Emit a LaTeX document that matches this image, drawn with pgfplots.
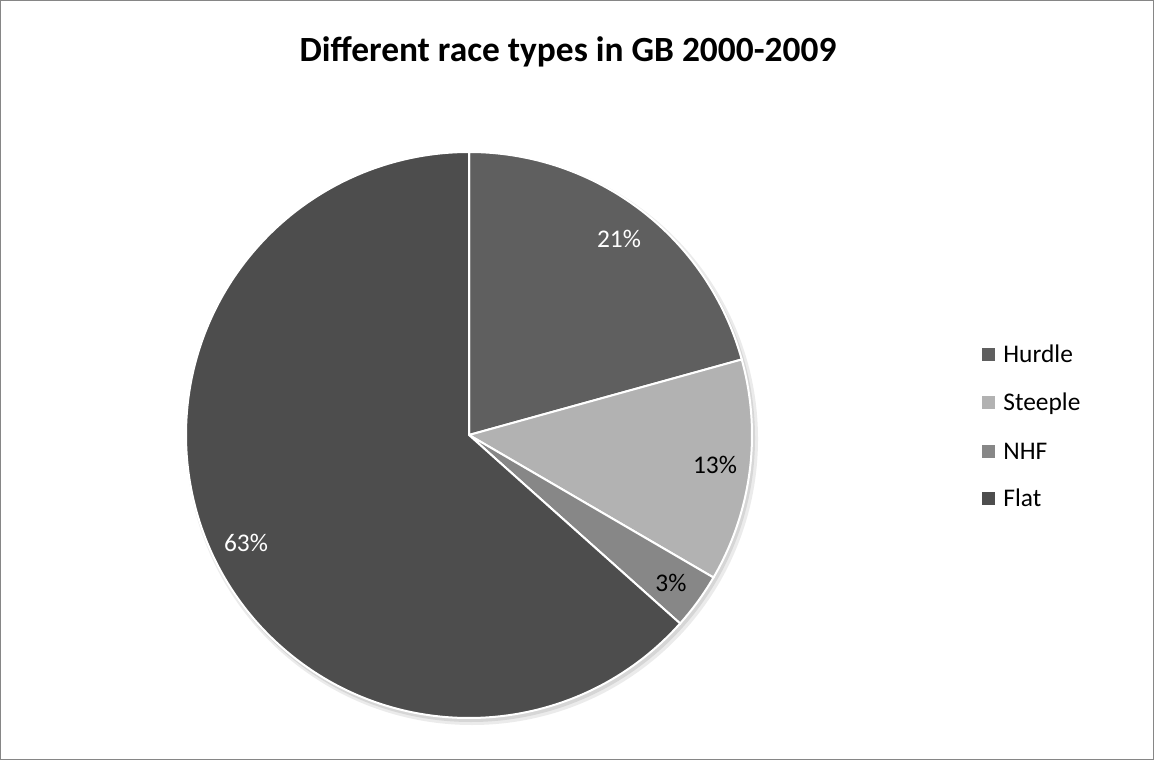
\documentclass[border=0pt]{standalone}
\usepackage{fontspec}
\setmainfont{Carlito}
\usepackage{pgfplots}
\usepackage{pgfplotstable}
\pgfplotsset{compat=1.18}
\definecolor{cHurdle}{HTML}{5F5F5F}
\definecolor{cSteeple}{HTML}{B2B2B2}
\definecolor{cNHF}{HTML}{878787}
\definecolor{cFlat}{HTML}{4D4D4D}
\definecolor{frame}{HTML}{868686}
\pgfplotstableread{
type share
Hurdle 20.7
Steeple 12.7
NHF 3.2
Flat 63.4
}\racedata
\pgfplotstablegetelem{0}{share}\of\racedata \let\sA\pgfplotsretval
\pgfplotstablegetelem{1}{share}\of\racedata \let\sB\pgfplotsretval
\pgfplotstablegetelem{2}{share}\of\racedata \let\sC\pgfplotsretval
\pgfplotstablegetelem{3}{share}\of\racedata \let\sD\pgfplotsretval
\pgfmathsetmacro\aA{90}
\pgfmathsetmacro\aB{\aA-3.6*\sA}
\pgfmathsetmacro\aC{\aB-3.6*\sB}
\pgfmathsetmacro\aD{\aC-3.6*\sC}
\pgfmathsetmacro\aE{\aD-3.6*\sD}
\def\R{141.5pt}
\begin{document}%
\begin{tikzpicture}
\begin{axis}[x=0.5pt,y=0.5pt,xmin=0,xmax=1154,ymin=0,ymax=760,hide axis,clip=false]
\coordinate (bl) at (axis cs:0,0);
\coordinate (tr) at (axis cs:1154,760);
\draw[frame,line width=0.5pt] (axis cs:0.5,0.5) rectangle (axis cs:1153.5,759.5);
\node[anchor=base,inner sep=0pt,font=\fontsize{17.7}{20}\selectfont\bfseries] at (axis cs:568,698) {Different race types in GB 2000-2009};
% pie shadow
\fill[black!8] (axis cs:472,321) circle[radius=143pt];
\fill[black!16] (axis cs:471,322) circle[radius=142pt];
% pie
\filldraw[fill=cHurdle,draw=white,line width=1pt] (axis cs:469,325) -- ++(\aA:\R) arc[start angle=\aA,end angle=\aB,radius=\R] -- cycle;
\filldraw[fill=cSteeple,draw=white,line width=1pt] (axis cs:469,325) -- ++(\aB:\R) arc[start angle=\aB,end angle=\aC,radius=\R] -- cycle;
\filldraw[fill=cNHF,draw=white,line width=1pt] (axis cs:469,325) -- ++(\aC:\R) arc[start angle=\aC,end angle=\aD,radius=\R] -- cycle;
\filldraw[fill=cFlat,draw=white,line width=1pt] (axis cs:469,325) -- ++(\aD:\R) arc[start angle=\aD,end angle=\aE,radius=\R] -- cycle;
% labels
\node[anchor=base,inner sep=0pt,white,font=\fontsize{12.7}{15}\selectfont] at (axis cs:619,512) {21\%};
\node[anchor=base,inner sep=0pt,black,font=\fontsize{12.7}{15}\selectfont] at (axis cs:715,286) {13\%};
\node[anchor=base,inner sep=0pt,black,font=\fontsize{12.7}{15}\selectfont] at (axis cs:671,169) {3\%};
\node[anchor=base,inner sep=0pt,white,font=\fontsize{12.7}{15}\selectfont] at (axis cs:246,209) {63\%};
% legend
\fill[cHurdle] (axis cs:982,398.5) rectangle (axis cs:995,411.5);
\fill[cSteeple] (axis cs:982,350.5) rectangle (axis cs:995,363.5);
\fill[cNHF] (axis cs:982,301.5) rectangle (axis cs:995,314.5);
\fill[cFlat] (axis cs:982,254.5) rectangle (axis cs:995,267.5);
\node[anchor=base west,inner sep=0pt,font=\fontsize{12.7}{15}\selectfont] at (axis cs:1003,397) {Hurdle};
\node[anchor=base west,inner sep=0pt,font=\fontsize{12.7}{15}\selectfont] at (axis cs:1003,349) {Steeple};
\node[anchor=base west,inner sep=0pt,font=\fontsize{12.7}{15}\selectfont] at (axis cs:1003,300) {NHF};
\node[anchor=base west,inner sep=0pt,font=\fontsize{12.7}{15}\selectfont] at (axis cs:1003,253) {Flat};
\end{axis}
\pgfresetboundingbox
\path[use as bounding box] (bl) rectangle (tr);
\end{tikzpicture}%
\end{document}
